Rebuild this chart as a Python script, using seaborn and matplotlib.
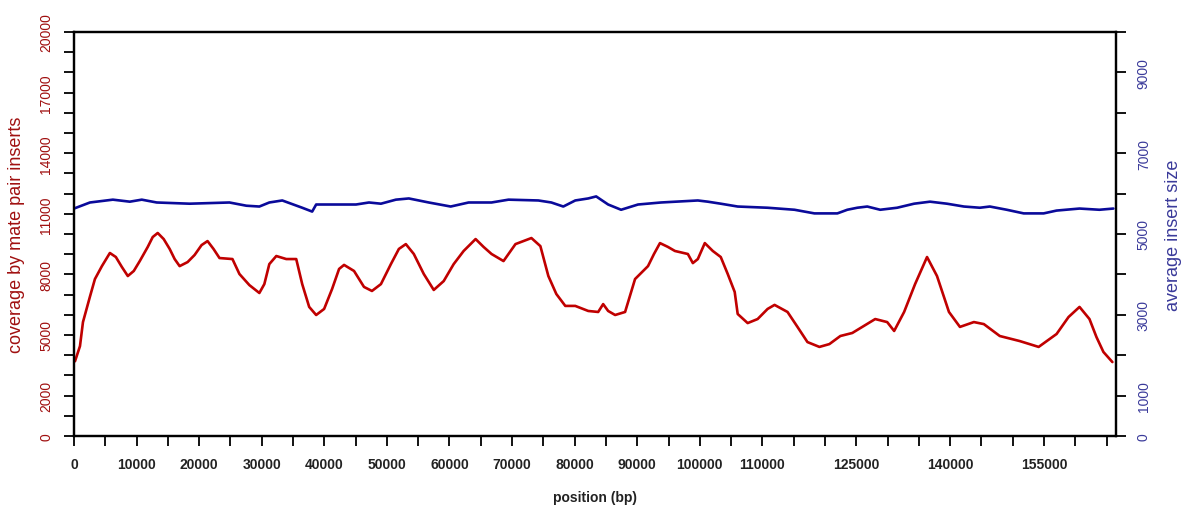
import numpy as np
import pandas as pd
import matplotlib
matplotlib.use("Agg")
import matplotlib.pyplot as plt
import seaborn as sns

# ---- data ----
cov_pos = [160, 955, 1433, 2548, 3344, 4459, 5732, 6688, 7643, 8599, 9554, 10510, 11783,
           12580, 13376, 14331, 15287, 16083, 16879, 18153, 19268, 20382, 21338, 22293,
           23248, 25318, 26433, 28025, 29618, 30414, 31210, 32325, 33917, 35510, 36465,
           37580, 38694, 39968, 41242, 42357, 43153, 44745, 46338, 47611, 49045, 50637,
           51911, 53025, 54299, 55892, 57484, 59076, 60669, 62261, 64172, 65446, 66720,
           68631, 70541, 71815, 73089, 74522, 75796, 77070, 78503, 80096, 82166, 83758,
           84554, 85350, 86465, 88057, 89650, 91720, 92675, 93631, 94904, 96019, 98089,
           98885, 99682, 100796, 102070, 103344, 104459, 105573, 106051, 107643, 109236,
           110828, 111943, 114013, 115605, 117197, 119108, 120701, 122452, 124363, 125955,
           128025, 129936, 131051, 132643, 134395, 136306, 137898, 139809, 141561, 143790,
           145382, 147930, 151115, 154140, 157006, 158917, 160669, 162261, 163376, 164490,
           165924]
cov_val = [3700, 4450, 5640, 6900, 7770, 8410, 9060, 8860, 8370, 7920, 8170, 8660, 9360,
           9850, 10050, 9750, 9260, 8760, 8410, 8610, 8960, 9450, 9650, 9260,
           8810, 8760, 8020, 7470, 7080, 7520, 8510, 8910, 8760, 8760, 7520,
           6390, 5990, 6290, 7280, 8270, 8470, 8170, 7380, 7180, 7520, 8510,
           9260, 9500, 9010, 8020, 7230, 7670, 8510, 9160, 9750, 9360, 9010,
           8660, 9500, 9650, 9800, 9400, 7920, 7030, 6440, 6440, 6190, 6140,
           6530, 6190, 5990, 6140, 7770, 8410, 9010, 9550, 9360, 9160, 9010,
           8560, 8760, 9550, 9160, 8860, 8020, 7130, 6040, 5590, 5790,
           6290, 6490, 6140, 5400, 4650, 4410, 4550, 4950, 5100, 5400,
           5790, 5640, 5200, 6140, 7520, 8860, 7920, 6140, 5400, 5640,
           5540, 4950, 4700, 4410, 5050, 5890, 6390, 5790, 4900, 4160,
           3660]

ins_pos = [0, 2548, 6210, 8917, 10828, 13217, 18471, 24841, 27548, 29618, 31210, 33280,
           36465, 38057, 38694, 42357, 45064, 47134, 49045, 51433, 53503, 56688, 60191,
           63057, 66720, 69427, 74204, 76274, 78185, 80096, 82166, 83439, 85350, 87420,
           90127, 93790, 99682, 101274, 103344, 106051, 110828, 115127, 118312, 121975,
           123567, 125159, 126752, 128822, 131529, 134236, 136783, 139490, 142197, 144745,
           146338, 149045, 151752, 154936, 157006, 160669, 163854, 166083]
ins_val = [5630, 5780, 5850, 5800, 5850, 5780, 5750, 5780, 5700, 5680, 5780, 5830,
           5650, 5555, 5730, 5730, 5730, 5780, 5750, 5850, 5880, 5780, 5680,
           5780, 5780, 5850, 5830, 5780, 5680, 5830, 5880, 5930, 5730, 5600,
           5730, 5780, 5830, 5800, 5750, 5680, 5650, 5600, 5510, 5510,
           5600, 5650, 5680, 5600, 5650, 5750, 5800, 5750, 5680, 5650,
           5680, 5600, 5510, 5510, 5580, 5630, 5600, 5630]

x_ticks = list(range(0, 165001, 5000))
x_labels_shown = [0, 10000, 20000, 30000, 40000, 50000, 60000, 70000, 80000, 90000,
                  100000, 110000, 125000, 140000, 155000]
left_ticks = list(range(0, 20001, 1000))
left_labels_shown = [0, 2000, 5000, 8000, 11000, 14000, 17000, 20000]
right_ticks = list(range(0, 10001, 1000))
right_labels_shown = [0, 1000, 3000, 5000, 7000, 9000]

cov_df = pd.DataFrame({"position": cov_pos, "coverage": cov_val})
ins_df = pd.DataFrame({"position": ins_pos, "insert": ins_val})

# ---- style ----
sns.set_style("ticks")
plt.rcParams["font.family"] = ["Liberation Sans", "DejaVu Sans"]

RED = "#c00000"
BLUE = "#0a0a9a"
RED_TXT = "#a01010"
BLUE_TXT = "#3a3a9a"

fig = plt.figure(figsize=(11.87, 5.10), dpi=100)
ax = fig.add_axes([74 / 1187, 1 - 437 / 510, (1116 - 74) / 1187, (437 - 33) / 510])
ax2 = ax.twinx()

sns.lineplot(data=cov_df, x="position", y="coverage", ax=ax, color=RED, linewidth=1.9,
             estimator=None, sort=False)
sns.lineplot(data=ins_df, x="position", y="insert", ax=ax2, color=BLUE, linewidth=1.9,
             estimator=None, sort=False)

ax.set_xlim(0, 166500)
ax.set_ylim(0, 20000)
ax2.set_ylim(0, 10000)

ax.set_xticks(x_ticks)
ax.set_xticklabels([str(t) if t in x_labels_shown else "" for t in x_ticks],
                   fontsize=10, fontweight="bold", color="#222222")
ax.set_yticks(left_ticks)
ax.set_yticklabels([str(t) if t in left_labels_shown else "" for t in left_ticks],
                   fontsize=10, color=RED_TXT, rotation=90, va="center")
ax2.set_yticks(right_ticks)
ax2.set_yticklabels([str(t) if t in right_labels_shown else "" for t in right_ticks],
                    fontsize=10, color=BLUE_TXT, rotation=90, va="center")

for a in (ax, ax2):
    a.tick_params(axis="both", direction="out", length=7, width=1.3, color="black", pad=8)
    for s in a.spines.values():
        s.set_visible(True)
        s.set_linewidth(1.6)
        s.set_color("black")

ax.set_xlabel("position (bp)", fontsize=10, fontweight="bold", color="#222222", labelpad=14)
ax.set_ylabel("coverage by mate pair inserts", fontsize=13, color=RED_TXT, labelpad=10)
ax2.set_ylabel("average insert size", fontsize=13, color=BLUE_TXT, labelpad=10)
ax.grid(False)
ax2.grid(False)

fig.savefig("out.png", dpi=100, facecolor="white")
